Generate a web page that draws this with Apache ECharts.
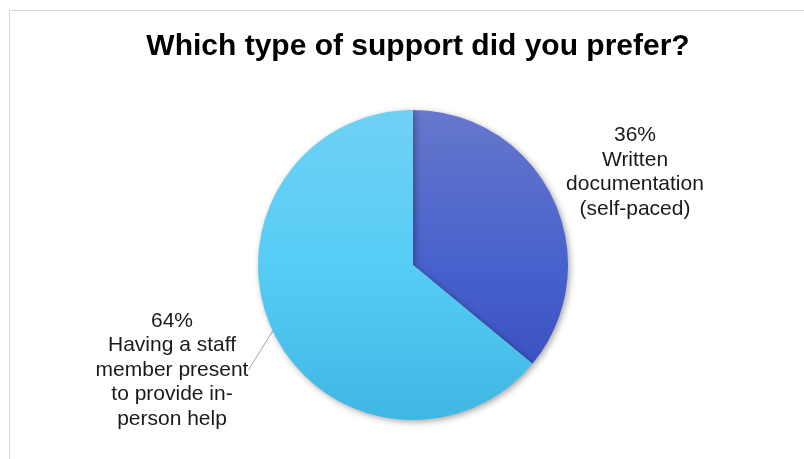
<!DOCTYPE html>
<html>
<head>
<meta charset="utf-8">
<script src="https://cdn.jsdelivr.net/npm/echarts@6/dist/echarts.min.js"></script>
<style>
  html, body { margin: 0; padding: 0; background: #ffffff; overflow: hidden; }
  #frame { position: absolute; left: 9px; top: 10px; width: 820px; height: 480px;
           border: 1px solid #d9d9d9; box-sizing: border-box; }
  #chart { position: absolute; left: 0; top: 0; width: 804px; height: 459px; }
</style>
</head>
<body>
<div id="frame"></div>
<div id="chart"></div>
<script>
// Survey answers
const titleText = 'Which type of support did you prefer?';
const categories = [
  'Written\ndocumentation\n(self-paced)',
  'Having a staff\nmember present\nto provide in-\nperson help'
];
const shares = [36, 64];

// Vertical shading per slice (top of pie -> bottom of pie)
const sliceGradients = [
  ['#6677cc', '#4762cc', '#3549bd'],
  ['#70d0f4', '#56cdf6', '#3fb7e3']
];

const PIE_CX = 413, PIE_CY = 265, PIE_R = 155;

function verticalGradient(stops) {
  return new echarts.graphic.LinearGradient(0, PIE_CY - PIE_R, 0, PIE_CY + PIE_R, [
    { offset: 0, color: stops[0] },
    { offset: 0.5, color: stops[1] },
    { offset: 1, color: stops[2] }
  ], true);
}

// Label block centres beside the pie
const labelSpots = [
  { x: 635, y: 172 },
  { x: 172, y: 370 }
];

const chart = echarts.init(document.getElementById('chart'), null, { renderer: 'canvas' });

chart.setOption({
  backgroundColor: 'transparent',
  animation: false,
  title: {
    text: titleText,
    left: 413,
    top: 27,
    textAlign: 'center',
    textStyle: {
      fontFamily: 'Liberation Sans, Arial, sans-serif',
      fontWeight: 'bold',
      fontSize: 30,
      color: '#000000'
    }
  },
  series: [{
    type: 'pie',
    center: [PIE_CX, PIE_CY],
    radius: PIE_R,
    startAngle: 90,
    clockwise: true,
    avoidLabelOverlap: false,
    data: categories.map((name, i) => ({
      name: name,
      value: shares[i],
      itemStyle: { color: verticalGradient(sliceGradients[i]) },
      labelLine: { show: i === 1 }
    })),
    itemStyle: {
      shadowBlur: 6,
      shadowOffsetX: 2,
      shadowOffsetY: 2,
      shadowColor: 'rgba(0,0,0,0.35)'
    },
    label: {
      show: true,
      position: 'outside',
      formatter: '{d}%\n{b}',
      fontFamily: 'Liberation Sans, Arial, sans-serif',
      fontSize: 21,
      lineHeight: 24.5,
      color: '#1a1a1a'
    },
    labelLine: {
      show: true,
      length: 30,
      length2: 0,
      lineStyle: { color: '#a6a6a6', width: 1 }
    },
    labelLayout: function (params) {
      const spot = labelSpots[params.dataIndex];
      return { x: spot.x, y: spot.y, align: 'center', verticalAlign: 'middle' };
    },
    emphasis: { disabled: true }
  }]
});
</script>
</body>
</html>
